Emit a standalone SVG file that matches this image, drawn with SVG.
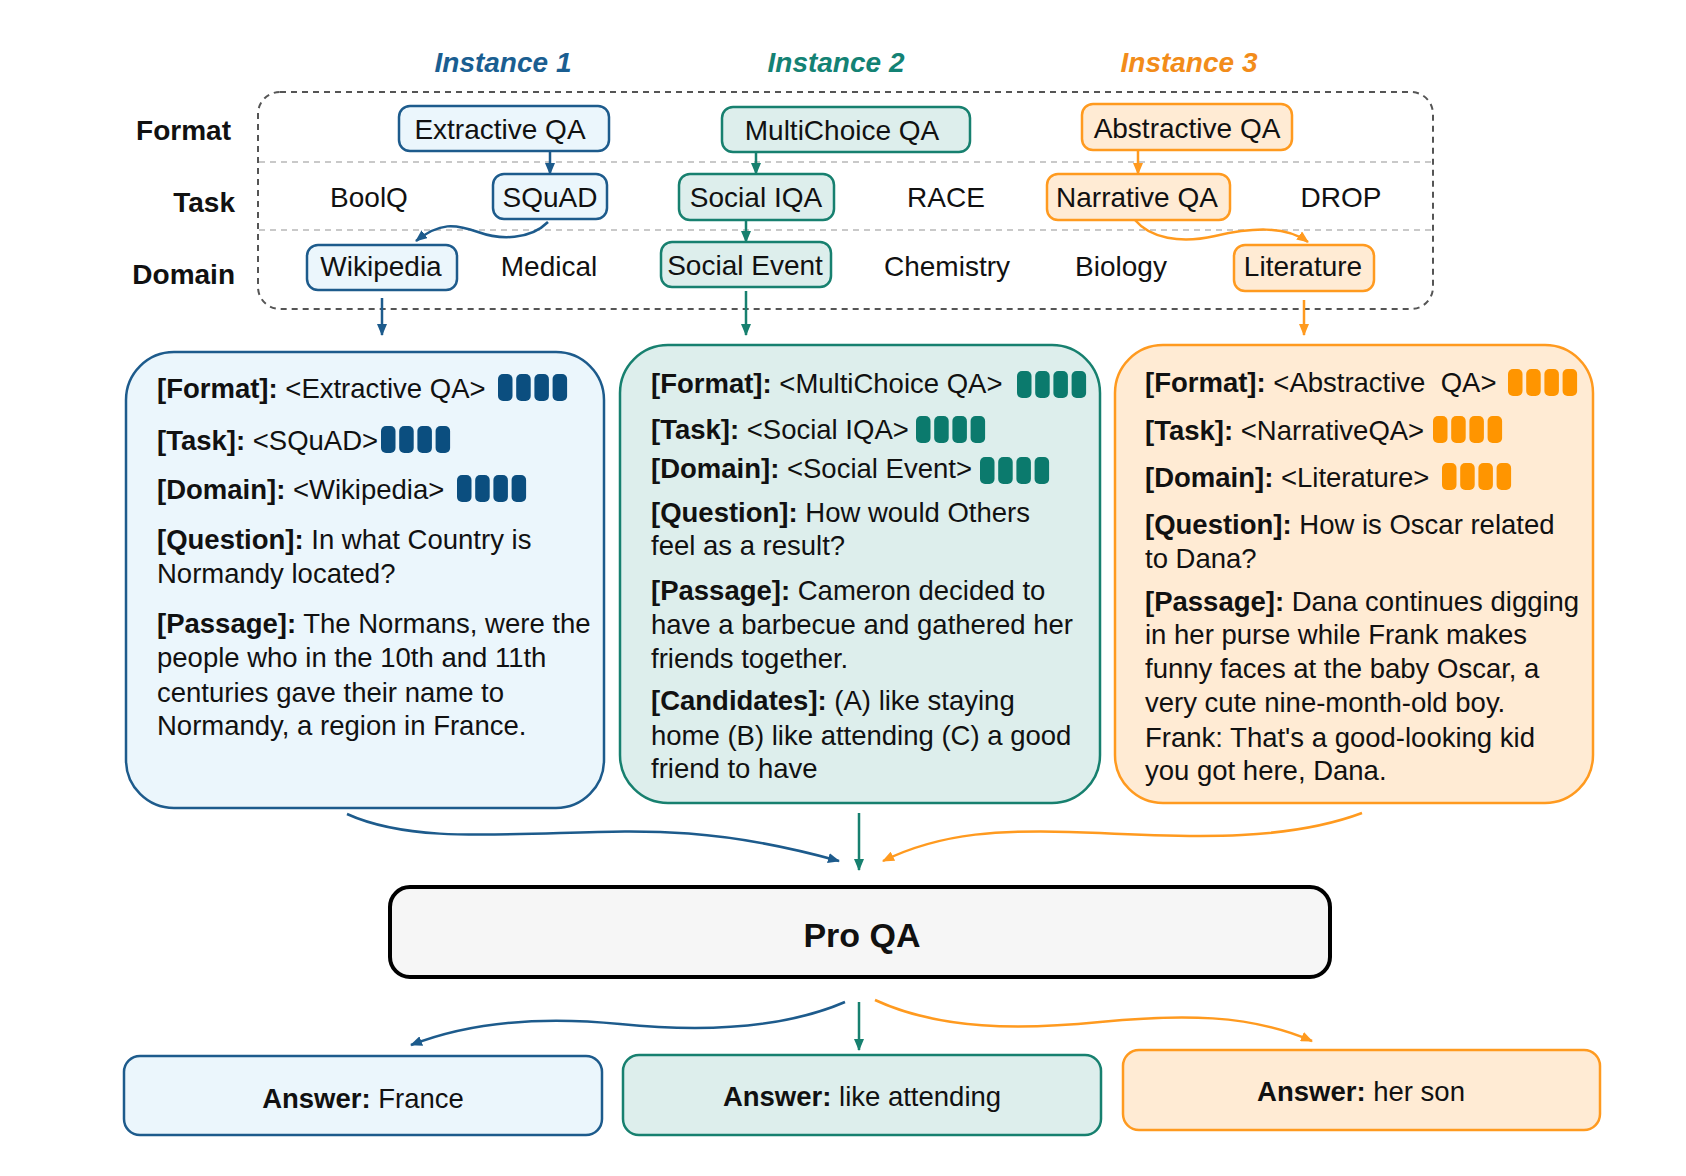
<svg xmlns="http://www.w3.org/2000/svg" width="1686" height="1176" viewBox="0 0 1686 1176">
<style>
text{font-family:"Liberation Sans",Arial,Helvetica,sans-serif;fill:#111;}
.lbl{font-size:28px;font-weight:bold;text-anchor:end;}
.inst{font-size:28px;font-weight:bold;font-style:italic;text-anchor:middle;}
.nt{font-size:28px;text-anchor:middle;}
.ct{font-size:27.5px;}
.b{font-weight:bold;}
.at{font-size:27.5px;text-anchor:middle;}
.pq{font-size:34px;font-weight:bold;text-anchor:middle;}
.bl{fill:#ebf6fc;stroke:#1d5b8c;stroke-width:2.5;}
.tl{fill:#ddeeec;stroke:#17806f;stroke-width:2.5;}
.or{fill:#ffebd4;stroke:#ff9a1f;stroke-width:2.5;}
.blb{fill:#0b4e7f;}
.tlb{fill:#0b7a6d;}
.orb{fill:#ff9500;}
.cb{fill:none;stroke:#1d5b8c;stroke-width:2.5;}
.ct2{fill:none;stroke:#17806f;stroke-width:2.5;}
.co{fill:none;stroke:#ff9a1f;stroke-width:2.5;}
.grid{stroke:#c9c9c9;stroke-width:2;stroke-dasharray:6 5;}
</style>
<defs>
<marker id="aB" markerUnits="userSpaceOnUse" markerWidth="12" markerHeight="10" refX="11" refY="5" orient="auto"><path d="M0,0 L12,5 L0,10 z" fill="#1d5b8c"/></marker>
<marker id="aT" markerUnits="userSpaceOnUse" markerWidth="12" markerHeight="10" refX="11" refY="5" orient="auto"><path d="M0,0 L12,5 L0,10 z" fill="#17806f"/></marker>
<marker id="aO" markerUnits="userSpaceOnUse" markerWidth="12" markerHeight="10" refX="11" refY="5" orient="auto"><path d="M0,0 L12,5 L0,10 z" fill="#ff9a1f"/></marker>
<g id="bars">
<rect x="0" y="0" width="14.5" height="27" rx="5"/>
<rect x="18.2" y="0" width="14.5" height="27" rx="5"/>
<rect x="36.4" y="0" width="14.5" height="27" rx="5"/>
<rect x="54.6" y="0" width="14.5" height="27" rx="5"/>
</g>
</defs>
<rect width="1686" height="1176" fill="#fff"/>

<!-- Instance headers -->
<text class="inst" x="503" y="72" style="fill:#1a5e91">Instance 1</text>
<text class="inst" x="836" y="72" style="fill:#138274">Instance 2</text>
<text class="inst" x="1189" y="72" style="fill:#f28c1a">Instance 3</text>

<!-- Row labels -->
<text class="lbl" x="231" y="140">Format</text>
<text class="lbl" x="235" y="212">Task</text>
<text class="lbl" x="235" y="284">Domain</text>

<!-- Hierarchy frame -->
<g id="frame">
<rect x="258" y="92" width="1175" height="217" rx="22" fill="none" stroke="#555" stroke-width="2" stroke-dasharray="6 5"/>
<line class="grid" x1="259" y1="162" x2="1432" y2="162"/>
<line class="grid" x1="259" y1="230" x2="1432" y2="230"/>
</g>

<!-- Format row -->
<g id="extractive-qa"><rect class="bl" x="399" y="106" width="210" height="45" rx="11"/><text class="nt" x="500" y="139">Extractive QA</text></g>
<g id="multichoice-qa"><rect class="tl" x="722" y="107" width="248" height="45" rx="11"/><text class="nt" x="842" y="140">MultiChoice QA</text></g>
<g id="abstractive-qa"><rect class="or" x="1082" y="104" width="210" height="46" rx="11"/><text class="nt" x="1187" y="138">Abstractive QA</text></g>

<!-- Task row -->
<g id="boolq"><text class="nt" x="369" y="207">BoolQ</text></g>
<g id="squad"><rect class="bl" x="493" y="174" width="114" height="45" rx="11"/><text class="nt" x="550" y="207">SQuAD</text></g>
<g id="social-iqa"><rect class="tl" x="679" y="174" width="155" height="46" rx="11"/><text class="nt" x="756" y="207">Social IQA</text></g>
<g id="race"><text class="nt" x="946" y="207">RACE</text></g>
<g id="narrative-qa"><rect class="or" x="1047" y="174" width="183" height="46" rx="11"/><text class="nt" x="1137" y="207">Narrative QA</text></g>
<g id="drop"><text class="nt" x="1341" y="207">DROP</text></g>

<!-- Domain row -->
<g id="wikipedia"><rect class="bl" x="307" y="245" width="150" height="45" rx="11"/><text class="nt" x="381" y="276">Wikipedia</text></g>
<g id="medical"><text class="nt" x="549" y="276">Medical</text></g>
<g id="social-event"><rect class="tl" x="661" y="242" width="170" height="45" rx="11"/><text class="nt" x="745" y="275">Social Event</text></g>
<g id="chemistry"><text class="nt" x="947" y="276">Chemistry</text></g>
<g id="biology"><text class="nt" x="1121" y="276">Biology</text></g>
<g id="literature"><rect class="or" x="1234" y="245" width="140" height="46" rx="11"/><text class="nt" x="1303" y="276">Literature</text></g>

<!-- Instance 1 prompt -->
<g id="prompt-1">
<rect class="bl" x="126" y="352" width="478" height="456" rx="48"/>
<text class="ct" x="157" y="398"><tspan class="b">[Format]:</tspan> &lt;Extractive QA&gt;</text>
<use href="#bars" x="498" y="374" class="blb"/>
<text class="ct" x="157" y="450"><tspan class="b">[Task]:</tspan> &lt;SQuAD&gt;</text>
<use href="#bars" x="381" y="426" class="blb"/>
<text class="ct" x="157" y="499"><tspan class="b">[Domain]:</tspan> &lt;Wikipedia&gt;</text>
<use href="#bars" x="457" y="475" class="blb"/>
<text class="ct" x="157" y="549"><tspan class="b">[Question]:</tspan> In what Country is</text>
<text class="ct" x="157" y="583">Normandy located?</text>
<text class="ct" x="157" y="633"><tspan class="b">[Passage]:</tspan> The Normans, were the</text>
<text class="ct" x="157" y="667">people who in the 10th and 11th</text>
<text class="ct" x="157" y="702">centuries gave their name to</text>
<text class="ct" x="157" y="735">Normandy, a region in France.</text>
</g>

<!-- Instance 2 prompt -->
<g id="prompt-2">
<rect class="tl" x="620" y="345" width="480" height="458" rx="48"/>
<text class="ct" x="651" y="393"><tspan class="b">[Format]:</tspan> &lt;MultiChoice QA&gt;</text>
<use href="#bars" x="1017" y="371" class="tlb"/>
<text class="ct" x="651" y="439"><tspan class="b">[Task]:</tspan> &lt;Social IQA&gt;</text>
<use href="#bars" x="916" y="416" class="tlb"/>
<text class="ct" x="651" y="478"><tspan class="b">[Domain]:</tspan> &lt;Social Event&gt;</text>
<use href="#bars" x="980" y="457" class="tlb"/>
<text class="ct" x="651" y="522"><tspan class="b">[Question]:</tspan> How would Others</text>
<text class="ct" x="651" y="555">feel as a result?</text>
<text class="ct" x="651" y="600"><tspan class="b">[Passage]:</tspan> Cameron decided to</text>
<text class="ct" x="651" y="634">have a barbecue and gathered her</text>
<text class="ct" x="651" y="668">friends together.</text>
<text class="ct" x="651" y="710"><tspan class="b">[Candidates]:</tspan> (A) like staying</text>
<text class="ct" x="651" y="745">home (B) like attending (C) a good</text>
<text class="ct" x="651" y="778">friend to have</text>
</g>

<!-- Instance 3 prompt -->
<g id="prompt-3">
<rect class="or" x="1115" y="345" width="478" height="458" rx="48"/>
<text class="ct" x="1145" y="392" xml:space="preserve"><tspan class="b">[Format]:</tspan> &lt;Abstractive  QA&gt;</text>
<use href="#bars" x="1508" y="369" class="orb"/>
<text class="ct" x="1145" y="440"><tspan class="b">[Task]:</tspan> &lt;NarrativeQA&gt;</text>
<use href="#bars" x="1433" y="416" class="orb"/>
<text class="ct" x="1145" y="487"><tspan class="b">[Domain]:</tspan> &lt;Literature&gt;</text>
<use href="#bars" x="1442" y="463" class="orb"/>
<text class="ct" x="1145" y="534"><tspan class="b">[Question]:</tspan> How is Oscar related</text>
<text class="ct" x="1145" y="568">to Dana?</text>
<text class="ct" x="1145" y="611"><tspan class="b">[Passage]:</tspan> Dana continues digging</text>
<text class="ct" x="1145" y="644">in her purse while Frank makes</text>
<text class="ct" x="1145" y="678">funny faces at the baby Oscar, a</text>
<text class="ct" x="1145" y="712">very cute nine-month-old boy.</text>
<text class="ct" x="1145" y="747">Frank: That's a good-looking kid</text>
<text class="ct" x="1145" y="780">you got here, Dana.</text>
</g>

<!-- Pro QA -->
<g id="pro-qa">
<rect x="390" y="887" width="940" height="90" rx="20" fill="#f6f6f6" stroke="#000" stroke-width="4"/>
<text class="pq" x="862" y="947">Pro QA</text>
</g>

<!-- Answers -->
<g id="answer-1"><rect class="bl" x="124" y="1056" width="478" height="79" rx="16"/><text class="at" x="363" y="1108"><tspan class="b">Answer:</tspan> France</text></g>
<g id="answer-2"><rect class="tl" x="623" y="1055" width="478" height="80" rx="16"/><text class="at" x="862" y="1106"><tspan class="b">Answer:</tspan> like attending</text></g>
<g id="answer-3"><rect class="or" x="1123" y="1050" width="477" height="80" rx="16"/><text class="at" x="1361" y="1101"><tspan class="b">Answer:</tspan> her son</text></g>

<!-- Connectors -->
<g id="connectors">
<line class="cb" x1="550" y1="151" x2="550" y2="174" marker-end="url(#aB)"/>
<line class="ct2" x1="756" y1="152" x2="756" y2="174" marker-end="url(#aT)"/>
<line class="ct2" x1="746" y1="220" x2="746" y2="242" marker-end="url(#aT)"/>
<line class="co" x1="1138" y1="150" x2="1138" y2="174" marker-end="url(#aO)"/>
<path class="cb" d="M548,222 C530,240 500,240 478,232 C455,224 440,222 416,241" marker-end="url(#aB)"/>
<path class="co" d="M1135,220 C1150,238 1180,244 1215,236 C1250,228 1285,225 1308,242" marker-end="url(#aO)"/>
<line class="cb" x1="382" y1="298" x2="382" y2="335" marker-end="url(#aB)"/>
<line class="ct2" x1="746" y1="291" x2="746" y2="335" marker-end="url(#aT)"/>
<line class="co" x1="1304" y1="300" x2="1304" y2="335" marker-end="url(#aO)"/>
<path class="cb" d="M347,814 C400,838 470,836 560,833 C650,830 720,828 839,861" marker-end="url(#aB)"/>
<line class="ct2" x1="859" y1="813" x2="859" y2="870" marker-end="url(#aT)"/>
<path class="co" d="M1362,813 C1290,840 1200,838 1100,833 C1000,828 940,833 883,861" marker-end="url(#aO)"/>
<path class="cb" d="M845,1002 C780,1030 700,1032 620,1024 C540,1016 470,1022 411,1045" marker-end="url(#aB)"/>
<line class="ct2" x1="859" y1="1002" x2="859" y2="1050" marker-end="url(#aT)"/>
<path class="co" d="M875,1000 C940,1030 1020,1030 1100,1022 C1180,1014 1250,1014 1312,1041" marker-end="url(#aO)"/>
</g>
</svg>
